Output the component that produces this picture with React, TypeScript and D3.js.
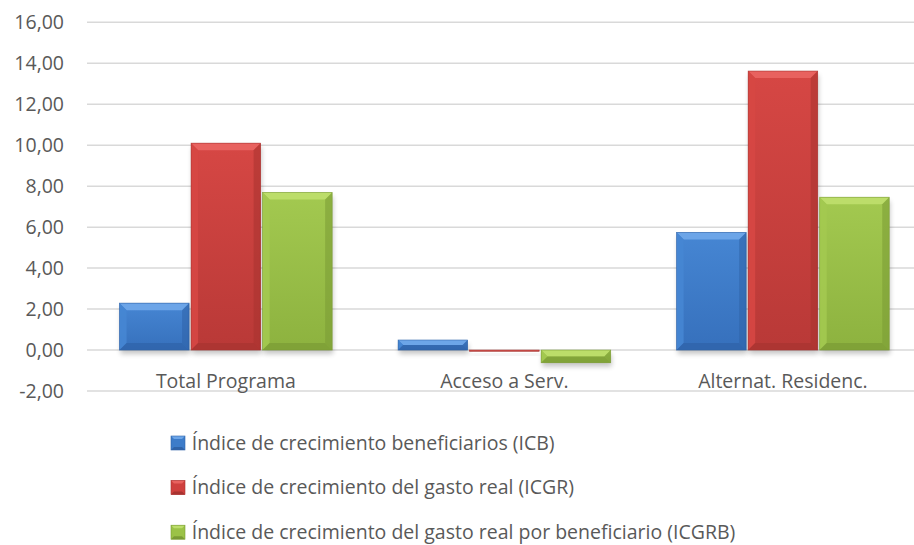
import React from "react";
import * as d3 from "d3";

const categories = ["Total Programa", "Acceso a Serv.", "Alternat. Residenc."];
const seriesNames = [
  "Índice de crecimiento beneficiarios (ICB)",
  "Índice de crecimiento del gasto real (ICGR)",
  "Índice de crecimiento del gasto real por beneficiario (ICGRB)",
];
const icb = [2.29, 0.49, 5.74];
const icgr = [10.1, -0.06, 13.62];
const icgrb = [7.69, -0.62, 7.46];
const yTicks = [-2, 0, 2, 4, 6, 8, 10, 12, 14, 16];

const palette = [
  { base: "#3D7CC9", light: "#6CA5E8", dark: "#2F63A8", mid: "#4686D3", low: "#3670BC" },
  { base: "#CF403E", light: "#E8625F", dark: "#A83330", mid: "#D64744", low: "#B93937" },
  { base: "#9BC247", light: "#BCDD6A", dark: "#7A9B35", mid: "#A3C950", low: "#8DB23F" },
];

const W = 914;
const H = 545;
const FONT = "'Open Sans', sans-serif";
const TEXT = "#595959";
const FS = 19.5;

export default function App() {
  const values = [icb, icgr, icgrb];
  const y = d3.scaleLinear().domain([-2, 16]).range([391, 22.3]);
  const x0 = d3.scaleBand<string>().domain(categories).range([86.6, 922.2]).padding(0);
  const x1 = d3
    .scaleBand<number>()
    .domain([0, 1, 2])
    .range([0, x0.bandwidth()])
    .paddingInner(0.028)
    .paddingOuter(0.461);
  const fmt = (v: number) => d3.format(".2f")(v).replace(".", ",").replace("\u2212", "-");

  const bars: any[] = [];
  categories.forEach((c, ci) => {
    values.forEach((vals, si) => {
      const v = vals[ci];
      const bx = (x0(c) as number) + (x1(si) as number);
      const bw = x1.bandwidth();
      const top = y(Math.max(v, 0));
      const bot = y(Math.min(v, 0));
      bars.push({ key: `${ci}-${si}`, x: bx, y: top, w: bw, h: Math.max(bot - top, 1), si });
    });
  });

  const pts = (arr: number[][]) => arr.map((q) => q.join(",")).join(" ");

  const bevel = (b: any) => {
    const { x, y: by, w, h, si } = b;
    const p = palette[si];
    const s = Math.min(7, h / 2, w / 2);
    return (
      <g key={b.key}>
        <rect x={x + 1} y={by + 4} width={w} height={h} fill="#000" opacity={0.22} filter="url(#shadow)" />
        <rect x={x} y={by} width={w} height={h} fill={`url(#grad${si})`} />
        <polygon points={pts([[x, by], [x + w, by], [x + w - s, by + s], [x + s, by + s]])} fill={p.light} />
        <polygon points={pts([[x, by], [x + s, by + s], [x + s, by + h - s], [x, by + h]])} fill={p.mid} opacity={0.9} />
        <polygon points={pts([[x + w, by], [x + w - s, by + s], [x + w - s, by + h - s], [x + w, by + h]])} fill={p.dark} opacity={0.55} />
        <polygon points={pts([[x, by + h], [x + s, by + h - s], [x + w - s, by + h - s], [x + w, by + h]])} fill={p.dark} opacity={0.7} />
        <rect x={x} y={by} width={w} height={h} fill="none" stroke={p.dark} strokeWidth={0.7} opacity={0.8} />
      </g>
    );
  };

  return (
    <svg width={W} height={H} style={{ position: "absolute", left: 0, top: 0, background: "#fff" }}>
      <defs>
        <filter id="shadow" x="-20%" y="-20%" width="140%" height="160%">
          <feGaussianBlur stdDeviation="2.5" />
        </filter>
        {palette.map((p, i) => (
          <linearGradient key={i} id={`grad${i}`} x1="0" y1="0" x2="0" y2="1">
            <stop offset="0%" stopColor={p.mid} />
            <stop offset="100%" stopColor={p.low} />
          </linearGradient>
        ))}
      </defs>
      <rect x={0} y={0} width={W} height={H} fill="#fff" />
      {yTicks.map((t) => (
        <g key={t}>
          <line x1={87} x2={914} y1={y(t)} y2={y(t)} stroke="#D9D9D9" strokeWidth={1.5} />
          <text x={64} y={y(t)} dy="0.36em" textAnchor="end" fontFamily={FONT} fontSize={FS} fill={TEXT}>
            {fmt(t)}
          </text>
        </g>
      ))}
      {bars.map(bevel)}
      {categories.map((c) => (
        <text
          key={c}
          x={(x0(c) as number) + x0.bandwidth() / 2}
          y={388}
          textAnchor="middle"
          fontFamily={FONT}
          fontSize={FS}
          fill={TEXT}
        >
          {c}
        </text>
      ))}
      {seriesNames.map((n, i) => {
        const ly = 436 + i * 44.6;
        const p = palette[i];
        const s = 14;
        const lx = 171;
        const b = 3;
        return (
          <g key={n}>
            <rect x={lx} y={ly} width={s} height={s} fill={p.base} />
            <polygon points={pts([[lx, ly], [lx + s, ly], [lx + s - b, ly + b], [lx + b, ly + b]])} fill={p.light} />
            <polygon points={pts([[lx, ly + s], [lx + b, ly + s - b], [lx + s - b, ly + s - b], [lx + s, ly + s]])} fill={p.dark} />
            <rect x={lx} y={ly} width={s} height={s} fill="none" stroke={p.dark} strokeWidth={0.6} />
            <text x={191.7} y={ly + 13.5} fontFamily={FONT} fontSize={FS} fill={TEXT}>
              {n}
            </text>
          </g>
        );
      })}
    </svg>
  );
}
